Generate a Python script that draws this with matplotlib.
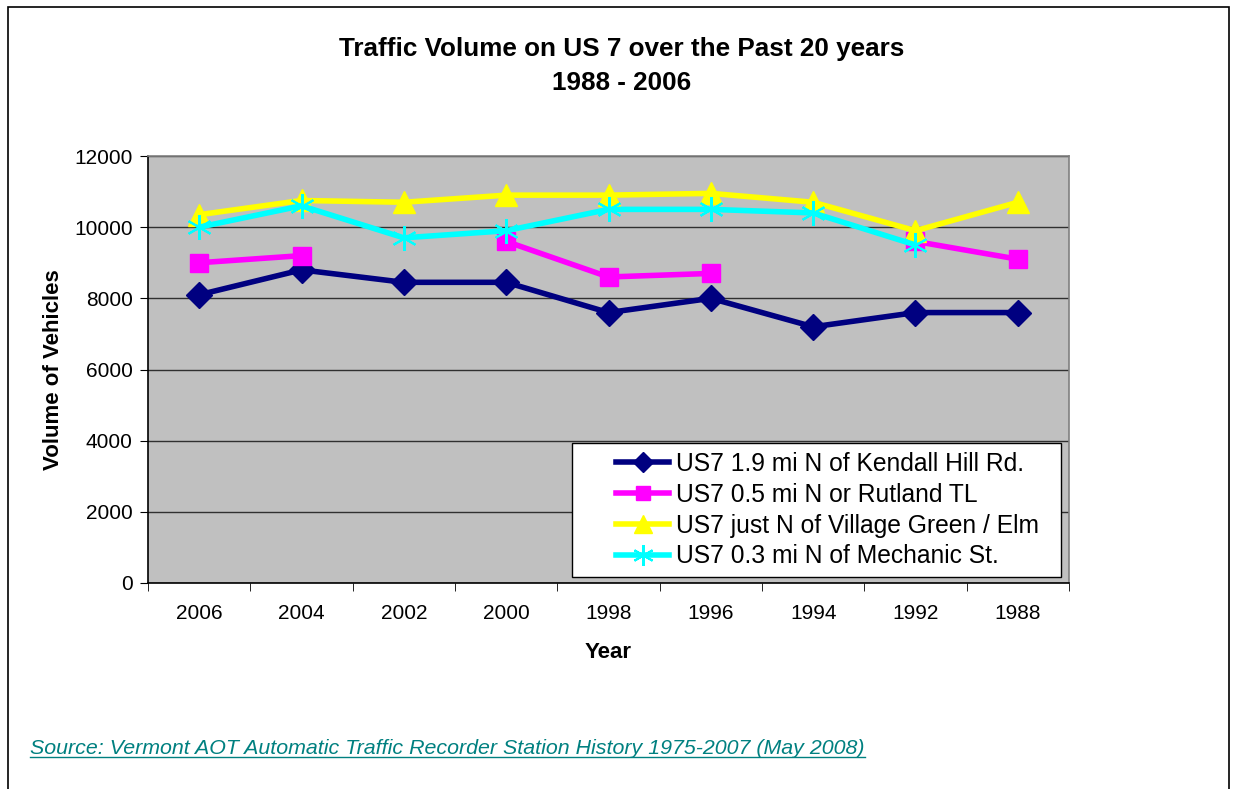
import numpy as np
import matplotlib
matplotlib.use("Agg")
import matplotlib.pyplot as plt
from matplotlib.lines import Line2D
from matplotlib.patches import Rectangle
from matplotlib.legend_handler import HandlerLine2D

plt.rcParams["font.family"] = ["Liberation Sans", "DejaVu Sans"]

# ---- data ----
years = ["2006", "2004", "2002", "2000", "1998", "1996", "1994", "1992", "1988"]
kendall = [8100, 8800, 8450, 8450, 7600, 8000, 7200, 7600, 7600]
rutland = [9000, 9200, np.nan, 9600, 8600, 8700, np.nan, 9600, 9100]
village = [10350, 10750, 10700, 10900, 10900, 10950, 10700, 9900, 10700]
mechanic = [10000, 10600, 9700, 9900, 10500, 10500, 10400, 9500, np.nan]

series = [
    ("US7 1.9 mi N of Kendall Hill Rd.", kendall, "#000080", "D", 13),
    ("US7 0.5 mi N or Rutland TL", rutland, "#FF00FF", "s", 13.5),
    ("US7 just N of Village Green / Elm", village, "#FFFF00", "^", 16),
    ("US7 0.3 mi N of Mechanic St.", mechanic, "#00FFFF", "*", 0),
]

fig = plt.figure(figsize=(12.36, 7.89), dpi=100)
# outer chart border
fig.patches.append(Rectangle((8 / 1236, -0.01), 1221 / 1236, 1 - 7 / 789 + 0.01,
                             transform=fig.transFigure, fill=False,
                             edgecolor="black", linewidth=1.2))

ax = fig.add_axes([148 / 1236, 1 - 583 / 789, 921 / 1236, 427 / 789])
ax.set_facecolor("#C0C0C0")
for s in ax.spines.values():
    s.set_color("#808080")
    s.set_linewidth(1.2)
ax.spines["left"].set_color("black")
ax.spines["bottom"].set_color("black")

x = np.arange(len(years))
for label, vals, color, marker, ms in series:
    if marker == "*":
        ax.plot(x, vals, color=color, linewidth=4, zorder=3, label=label,
                marker=(6, 2, 0), markersize=18, markeredgewidth=1.5,
                markeredgecolor=color)
    else:
        ax.plot(x, vals, color=color, linewidth=4, zorder=3, label=label,
                marker=marker, markersize=ms, markeredgecolor=color,
                markerfacecolor=color)

ax.set_ylim(0, 12000)
ax.set_yticks(np.arange(0, 12001, 2000))
ax.grid(axis="y", color="#303030", linewidth=1)
ax.set_axisbelow(True)
ax.set_xlim(-0.5, len(years) - 0.5)
ax.set_xticks(x)
ax.set_xticklabels(years)
ax.set_xticks(np.arange(-0.5, len(years)), minor=True)
ax.tick_params(axis="x", which="major", length=0, pad=15, labelsize=15)
ax.tick_params(axis="x", which="minor", length=6, direction="out")
ax.tick_params(axis="y", length=6, direction="out", labelsize=15, pad=5)

ax.set_xlabel("Year", fontsize=16, fontweight="bold", labelpad=14)
ax.set_ylabel("Volume of Vehicles", fontsize=16, fontweight="bold", labelpad=7)

fig.text(622 / 1236, 1 - 49 / 789, "Traffic Volume on US 7 over the Past 20 years",
         ha="center", va="center", fontsize=18.8, fontweight="bold")
fig.text(622 / 1236, 1 - 83 / 789, "1988 - 2006",
         ha="center", va="center", fontsize=18.8, fontweight="bold")

handles = []
for label, vals, color, marker, ms in series:
    if marker == "*":
        h = Line2D([], [], color=color, linewidth=4, marker=(6, 2, 0),
                   markersize=15, markeredgewidth=1.5, markeredgecolor=color)
    else:
        h = Line2D([], [], color=color, linewidth=4, marker=marker,
                   markersize=ms - 3, markeredgecolor=color)
    handles.append(h)
leg = ax.legend(handles, [s[0] + "  " for s in series], loc="lower right",
                bbox_to_anchor=((1061 - 148) / 921, 6 / 427), fontsize=17.7,
                frameon=True, fancybox=False, edgecolor="black",
                facecolor="white", framealpha=1, handlelength=3.6,
                handletextpad=0.25, borderpad=0.35, labelspacing=0.28,
                borderaxespad=0,
                handler_map={Line2D: HandlerLine2D(xpad=1.44)})
leg.get_frame().set_linewidth(1)

src = fig.text(30 / 1236, 1 - 749 / 789,
               "Source: Vermont AOT Automatic Traffic Recorder Station History 1975-2007 (May 2008)",
               ha="left", va="center", fontsize=15.4, style="italic", color="#008080")
fig.canvas.draw()
bb = src.get_window_extent().transformed(fig.transFigure.inverted())
fig.add_artist(Line2D([bb.x0, bb.x1], [bb.y0 + 0.002, bb.y0 + 0.002],
                      transform=fig.transFigure, color="#008080", linewidth=1))

fig.savefig("out.png", dpi=100, facecolor="white")
